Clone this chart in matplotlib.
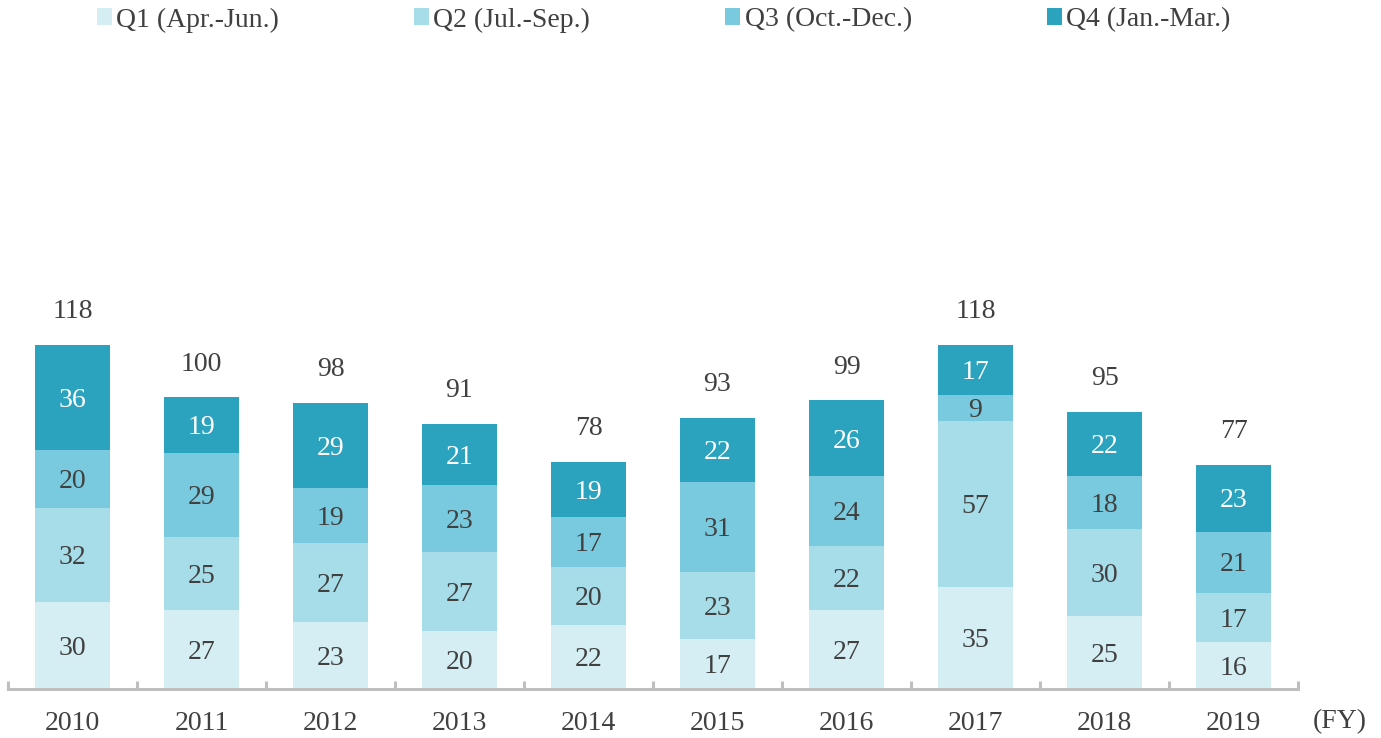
import numpy as np
import matplotlib.pyplot as plt
from matplotlib.patches import Patch

# Quarterly counts per fiscal year
years = ['2010', '2011', '2012', '2013', '2014', '2015', '2016', '2017', '2018', '2019']
q1 = [30, 27, 23, 20, 22, 17, 27, 35, 25, 16]
q2 = [32, 25, 27, 27, 20, 23, 22, 57, 30, 17]
q3 = [20, 29, 19, 23, 17, 31, 24, 9, 18, 21]
q4 = [36, 19, 29, 21, 19, 22, 26, 17, 22, 23]
totals = [118, 100, 98, 91, 78, 93, 99, 118, 95, 77]
quarter_names = ['Q1 (Apr.-Jun.)', 'Q2 (Jul.-Sep.)', 'Q3 (Oct.-Dec.)', 'Q4 (Jan.-Mar.)']

colors = ['#D4EEF4', '#A6DDE9', '#7ACADF', '#2BA3BE']
text_colors = ['#404040', '#404040', '#404040', '#FFFFFF']
TEXT = '#404040'
AXIS = '#BFBFBF'

plt.rcParams['font.family'] = ['Liberation Serif', 'DejaVu Serif']
FS = 20

fig = plt.figure(figsize=(13.81, 7.38), dpi=100)
ax = fig.add_axes([8 / 1381, 49 / 738, 1290 / 1381, 649 / 738])

x = np.arange(len(years))
bottom = np.zeros(len(years))
containers = []
for vals, c, tc in zip([q1, q2, q3, q4], colors, text_colors):
    bars = ax.bar(x, vals, width=0.58, bottom=bottom, color=c, edgecolor='none', zorder=2)
    # value label in the middle of each segment
    for xi, b, v in zip(x, bottom, vals):
        ax.annotate(str(v), (xi, b + v / 2), xytext=(0, -2), textcoords='offset points',
                    ha='center', va='center', fontsize=FS, color=tc, zorder=3)
    containers.append(bars)
    bottom += np.array(vals)

# totals above each stack
ax.bar_label(containers[-1], labels=[str(t) for t in totals], padding=15,
             fontsize=FS, color=TEXT)

ax.set_xlim(-0.5, len(years) - 0.5)
ax.set_ylim(0, 222.6)

for side in ['top', 'right', 'left']:
    ax.spines[side].set_visible(False)
ax.spines['bottom'].set_color(AXIS)
ax.spines['bottom'].set_linewidth(2.2)
ax.set_yticks([])

ax.set_xticks(x)
ax.set_xticklabels(years)
ax.tick_params(axis='x', which='major', length=0, labelsize=FS, labelcolor=TEXT, pad=16)
ax.set_xticks(np.arange(-0.5, len(years), 1.0), minor=True)
ax.tick_params(axis='x', which='minor', direction='in', length=6, width=2.2, color=AXIS)

fig.text(1340 / 1381, 1 - 722 / 738, '(FY)', fontsize=FS, color=TEXT,
         ha='center', va='center')

handles = [Patch(facecolor=c, edgecolor='none') for c in colors]
leg = fig.legend(handles, quarter_names, loc='center left',
                 bbox_to_anchor=(97 / 1381, 1 - 20 / 738), ncol=4, frameon=False,
                 fontsize=FS, handlelength=0.55, handleheight=0.55,
                 handletextpad=0.15, columnspacing=4.85, borderaxespad=0, borderpad=0)
for t in leg.get_texts():
    t.set_color(TEXT)

fig.savefig('out.png', dpi=100)
